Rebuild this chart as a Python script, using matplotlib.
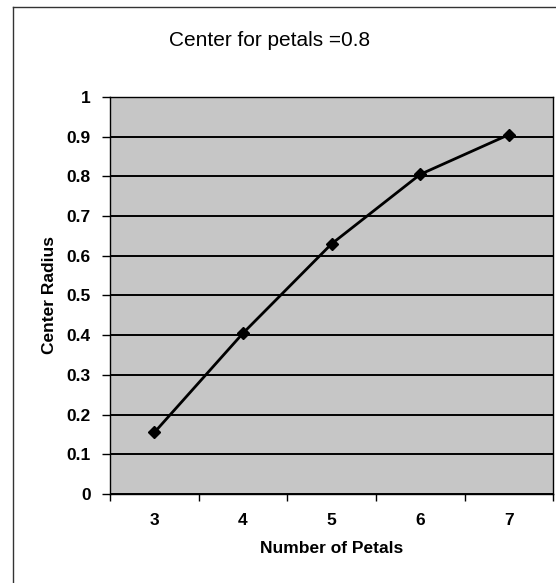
import matplotlib.pyplot as plt
from matplotlib.lines import Line2D
from matplotlib.ticker import FixedLocator, FuncFormatter

plt.rcParams["font.family"] = ["Liberation Sans", "DejaVu Sans"]

# data
petals = ["3", "4", "5", "6", "7"]
center_radius = [0.155, 0.405, 0.63, 0.805, 0.905]
y_ticks = [0, 0.1, 0.2, 0.3, 0.4, 0.5, 0.6, 0.7, 0.8, 0.9, 1]

fig = plt.figure(figsize=(5.56, 5.83), dpi=100)
ax = fig.add_axes([0.198, 0.1527, 0.7968, 0.681])

x = list(range(1, len(petals) + 1))
ax.set_facecolor("#c6c6c6")
ax.plot(x, center_radius, color="black", lw=2, marker="D", ms=6,
        markerfacecolor="black", zorder=3)

ax.set_xlim(0.5, len(petals) + 0.5)
ax.set_ylim(0, 1)
ax.yaxis.set_major_locator(FixedLocator(y_ticks))
ax.yaxis.set_major_formatter(FuncFormatter(lambda v, p: "%g" % round(v, 1)))
ax.yaxis.grid(True, color="black", lw=1.4)
ax.set_axisbelow(True)

# ticks between categories, labels at category centres
ax.xaxis.set_major_locator(FixedLocator([i + 0.5 for i in range(0, len(petals) + 1)]))
ax.xaxis.set_minor_locator(FixedLocator(x))
ax.set_xticklabels([])
ax.set_xticklabels(petals, minor=True)
ax.tick_params(axis="x", which="major", length=5, width=1, direction="out")
ax.tick_params(axis="x", which="minor", length=0, pad=14)
ax.tick_params(axis="y", length=6, width=1, direction="out", pad=8)
for lab in ax.get_xticklabels(minor=True) + ax.get_yticklabels():
    lab.set_fontsize(12.5)
    lab.set_fontweight("bold")

for s in ax.spines.values():
    s.set_color("black")
    s.set_linewidth(1)

ax.set_xlabel("Number of Petals", fontsize=12.5, fontweight="bold", labelpad=9)
ax.set_ylabel("Center Radius", fontsize=12.5, fontweight="bold")
ax.yaxis.set_label_coords(-0.12, 0.5)

fig.text(0.485, 0.931, "Center for petals =0.8", fontsize=15, ha="center", va="center")

# outer chart frame (cut at right and bottom)
fig.add_artist(Line2D([0.0234, 0.0234], [0, 0.988], color="#333333", lw=1))
fig.add_artist(Line2D([0.0234, 1], [0.988, 0.988], color="#333333", lw=1))

fig.savefig("out.png", dpi=100)
